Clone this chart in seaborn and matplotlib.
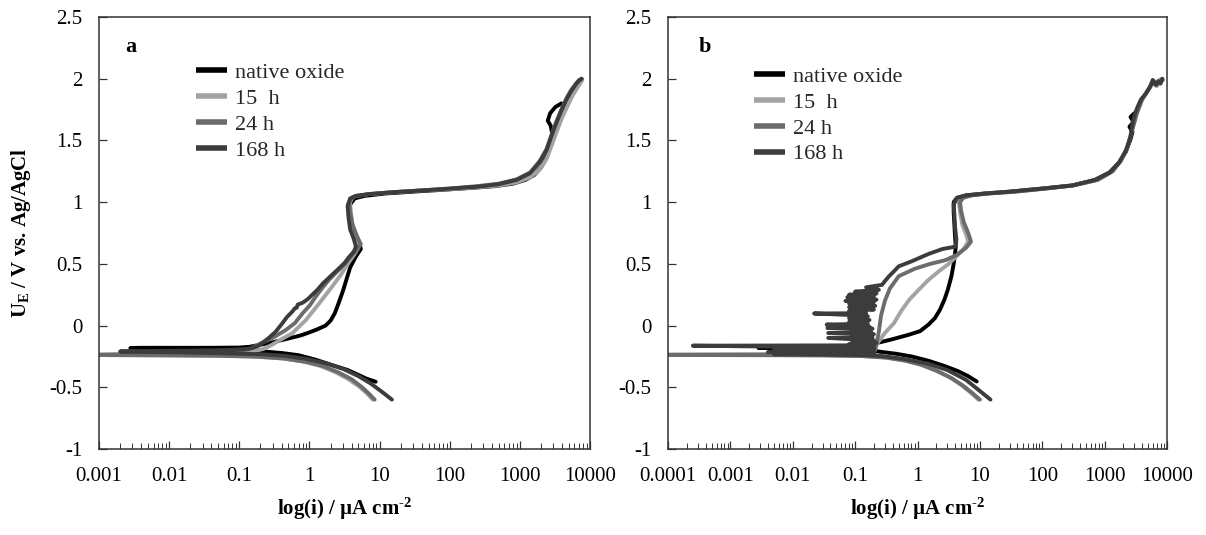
import matplotlib
matplotlib.use("Agg")
import matplotlib.pyplot as plt
from matplotlib.lines import Line2D
from matplotlib.ticker import LogLocator, FuncFormatter, MultipleLocator, NullFormatter
import seaborn as sns
import pandas as pd

# ---- series definitions -------------------------------------------------
series_labels = ["native oxide", "15  h", "24 h", "168 h"]
series_colors = ["#000000", "#a3a3a3", "#6c6c6c", "#3c3c3c"]

# panel a: (current density / uA cm-2, potential / V) along each sweep
native_a = [(8.8, -0.455), (6.5, -0.43), (5.0, -0.40), (3.5, -0.36), (2.1, -0.32), (1.2, -0.275),
            (0.7, -0.24), (0.4, -0.222), (0.25, -0.212), (0.12, -0.205), (0.04, -0.198), (0.012, -0.192),
            (0.005, -0.187), (0.0028, -0.182), (0.004, -0.18), (0.01, -0.18), (0.04, -0.18), (0.1, -0.178),
            (0.14, -0.172), (0.2, -0.155), (0.3, -0.135), (0.5, -0.105), (0.75, -0.08), (1.0, -0.055),
            (1.3, -0.03), (1.7, 0.0), (2.0, 0.04), (2.3, 0.10), (2.6, 0.18), (3.0, 0.28), (3.4, 0.38),
            (3.8, 0.47), (4.6, 0.56), (5.4, 0.62), (5.2, 0.66), (4.4, 0.72), (3.9, 0.80), (3.7, 0.90),
            (3.8, 0.98), (4.4, 1.03), (6, 1.05), (12, 1.07), (30, 1.085), (80, 1.10), (200, 1.115),
            (450, 1.13), (800, 1.15), (1200, 1.18), (1600, 1.22), (2000, 1.28), (2400, 1.36), (2700, 1.45),
            (2900, 1.55), (2750, 1.62), (2500, 1.66), (2700, 1.72), (3200, 1.77), (3900, 1.80)]
h15_a = [(8.0, -0.60), (6.5, -0.545), (5.0, -0.49), (3.5, -0.43), (2.3, -0.375), (1.4, -0.325),
         (0.8, -0.29), (0.4, -0.265), (0.15, -0.25), (0.04, -0.243), (0.008, -0.24), (0.0015, -0.238),
         (0.0007, -0.236), (0.002, -0.232), (0.02, -0.228), (0.08, -0.222), (0.15, -0.212), (0.22, -0.19),
         (0.29, -0.157), (0.4, -0.11), (0.57, -0.062), (0.89, 0.045), (1.38, 0.18), (2.1, 0.315),
         (2.8, 0.41), (3.5, 0.50), (4.3, 0.57), (5.0, 0.63), (4.6, 0.72), (4.1, 0.82), (3.9, 0.92),
         (3.8, 1.0), (4.1, 1.035), (4.6, 1.05), (7, 1.065), (15, 1.08), (40, 1.095), (100, 1.105),
         (250, 1.12), (500, 1.135), (900, 1.16), (1400, 1.2), (1900, 1.26), (2400, 1.35), (2800, 1.45),
         (3300, 1.56), (3900, 1.67), (4700, 1.77), (5600, 1.86), (6500, 1.92), (7200, 1.96), (7800, 1.99)]
h24_a = [(8.5, -0.60), (7.0, -0.55), (5.5, -0.495), (4.0, -0.435), (2.6, -0.38), (1.6, -0.33),
         (0.9, -0.295), (0.45, -0.268), (0.18, -0.252), (0.05, -0.245), (0.01, -0.242), (0.002, -0.24),
         (0.0008, -0.238), (0.002, -0.234), (0.02, -0.228), (0.08, -0.215), (0.14, -0.19), (0.21, -0.14),
         (0.32, -0.09), (0.46, -0.036), (0.62, 0.02), (0.8, 0.10), (1.0, 0.16), (1.23, 0.234), (1.5, 0.30),
         (1.9, 0.37), (2.5, 0.44), (3.2, 0.50), (3.9, 0.56), (4.8, 0.62), (5.4, 0.66), (4.8, 0.72),
         (4.1, 0.82), (3.8, 0.92), (3.7, 0.99), (3.9, 1.03), (4.5, 1.05), (7, 1.065), (15, 1.08),
         (40, 1.095), (100, 1.11), (250, 1.13), (500, 1.15), (900, 1.185), (1400, 1.24), (1900, 1.33),
         (2400, 1.43), (2800, 1.54), (3300, 1.65), (3900, 1.75), (4600, 1.84), (5400, 1.91), (6300, 1.96),
         (7000, 1.99), (7600, 2.0)]
h168_a = [(15, -0.60), (11, -0.54), (7.5, -0.47), (5.0, -0.41), (3.0, -0.35), (1.7, -0.305), (0.9, -0.27),
          (0.45, -0.245), (0.2, -0.232), (0.06, -0.225), (0.015, -0.218), (0.004, -0.213), (0.002, -0.21),
          (0.004, -0.207), (0.02, -0.203), (0.07, -0.198), (0.13, -0.19), (0.18, -0.17), (0.22, -0.135),
          (0.27, -0.095), (0.33, -0.05), (0.4, 0.01), (0.48, 0.07), (0.57, 0.113), (0.62, 0.14),
          (0.66, 0.145), (0.68, 0.17), (0.8, 0.185), (0.95, 0.215), (1.1, 0.25), (1.3, 0.29), (1.55, 0.34),
          (2.0, 0.40), (2.6, 0.46), (3.2, 0.51), (3.6, 0.55), (4.3, 0.60), (4.6, 0.64), (4.3, 0.70),
          (3.8, 0.78), (3.6, 0.88), (3.5, 0.97), (3.8, 1.03), (4.6, 1.05), (7, 1.065), (15, 1.08),
          (40, 1.095), (100, 1.11), (250, 1.125), (500, 1.145), (900, 1.18), (1400, 1.235), (1900, 1.32),
          (2400, 1.42), (2800, 1.53), (3300, 1.64), (3900, 1.74), (4600, 1.83), (5400, 1.90),
          (6300, 1.955), (7000, 1.985), (7600, 2.0)]

# panel b
native_b = [(8.9, -0.453), (6.5, -0.41), (4.5, -0.37), (2.8, -0.33), (1.5, -0.285), (0.8, -0.25),
            (0.45, -0.228), (0.28, -0.215), (0.2, -0.205), (0.1, -0.2), (0.02, -0.19), (0.006, -0.185),
            (0.0028, -0.18), (0.004, -0.178), (0.03, -0.175), (0.15, -0.17), (0.23, -0.14), (0.4, -0.11),
            (0.74, -0.073), (1.1, -0.045), (1.5, 0.008), (1.9, 0.06), (2.3, 0.13), (2.7, 0.21), (3.06, 0.29),
            (3.5, 0.40), (3.8, 0.50), (4.0, 0.58), (4.1, 0.64), (4.0, 0.72), (3.9, 0.82), (3.8, 0.92),
            (3.8, 1.0), (4.3, 1.035), (6, 1.055), (12, 1.07), (30, 1.085), (100, 1.11), (300, 1.135),
            (700, 1.18), (1200, 1.24), (1700, 1.32), (2200, 1.41), (2600, 1.51), (2800, 1.57), (2500, 1.61),
            (2900, 1.65), (2600, 1.69), (3000, 1.72)]
h15_b = [(9.5, -0.60), (7.0, -0.54), (5.0, -0.48), (3.3, -0.42), (2.0, -0.365), (1.1, -0.315),
         (0.6, -0.28), (0.3, -0.258), (0.12, -0.245), (0.03, -0.24), (0.003, -0.238), (0.00009, -0.236),
         (0.001, -0.234), (0.05, -0.232), (0.15, -0.222), (0.2, -0.2), (0.23, -0.14), (0.3, -0.06),
         (0.42, 0.02), (0.55, 0.12), (0.74, 0.21), (1.0, 0.28), (1.5, 0.37), (2.2, 0.44), (3.1, 0.496),
         (4.0, 0.55), (5.5, 0.62), (6.5, 0.68), (6.0, 0.74), (5.2, 0.82), (4.8, 0.92), (4.6, 1.0),
         (5.2, 1.035), (7, 1.055), (13, 1.07), (35, 1.085), (110, 1.11), (300, 1.135), (750, 1.18),
         (1300, 1.25), (1800, 1.33), (2300, 1.44), (2700, 1.57), (3200, 1.71), (3800, 1.82), (4800, 1.9),
         (5900, 1.97), (6800, 1.94), (7500, 1.99), (8300, 2.0)]
h24_b = [(10.0, -0.60), (7.5, -0.545), (5.3, -0.485), (3.5, -0.425), (2.1, -0.37), (1.2, -0.32),
         (0.65, -0.285), (0.32, -0.26), (0.13, -0.247), (0.03, -0.242), (0.003, -0.24), (0.00009, -0.238),
         (0.001, -0.236), (0.05, -0.233), (0.15, -0.225), (0.21, -0.2), (0.22, -0.15), (0.24, -0.05),
         (0.26, 0.08), (0.3, 0.2), (0.36, 0.3), (0.5, 0.4), (0.9, 0.46), (1.6, 0.5), (2.8, 0.53),
         (4.2, 0.57), (6.0, 0.63), (7.2, 0.68), (6.5, 0.75), (5.5, 0.84), (5.0, 0.93), (4.8, 1.0),
         (5.4, 1.035), (7.5, 1.055), (14, 1.07), (38, 1.085), (115, 1.11), (320, 1.135), (780, 1.18),
         (1350, 1.25), (1850, 1.34), (2350, 1.45), (2750, 1.58), (3300, 1.72), (4000, 1.83),
         (5000, 1.91), (6200, 1.98), (7000, 1.95), (7800, 1.98), (8600, 1.99)]
h168_b = [(14.8, -0.60), (10, -0.53), (6, -0.44), (3, -0.36), (1.5, -0.31), (0.6, -0.27), (0.25, -0.245),
          (0.1, -0.238), (0.005, -0.232), (0.2, -0.225), (0.004, -0.215), (0.2, -0.21), (0.005, -0.2),
          (0.2, -0.195), (0.006, -0.185), (0.2, -0.18), (0.00025, -0.163), (0.2, -0.16), (0.08, -0.15),
          (0.22, -0.14), (0.09, -0.13), (0.2, -0.12), (0.037, -0.10), (0.19, -0.095), (0.09, -0.08),
          (0.2, -0.07), (0.037, -0.06), (0.18, -0.05), (0.09, -0.035), (0.19, -0.025), (0.036, -0.02),
          (0.17, -0.01), (0.035, 0.008), (0.16, 0.015), (0.08, 0.03), (0.17, 0.045), (0.08, 0.06),
          (0.16, 0.075), (0.09, 0.085), (0.022, 0.098), (0.15, 0.10), (0.08, 0.12), (0.2, 0.13),
          (0.08, 0.15), (0.21, 0.16), (0.08, 0.18), (0.2, 0.19), (0.07, 0.2), (0.22, 0.21), (0.075, 0.23),
          (0.2, 0.24), (0.08, 0.25), (0.22, 0.26), (0.1, 0.275), (0.24, 0.29), (0.15, 0.31), (0.27, 0.33),
          (0.3, 0.36), (0.35, 0.40), (0.42, 0.44), (0.5, 0.48), (0.8, 0.52), (1.5, 0.58), (2.5, 0.62),
          (4.1, 0.64), (4.2, 0.70), (4.0, 0.80), (3.9, 0.90), (3.8, 0.98), (4.3, 1.035), (6, 1.055),
          (12, 1.07), (30, 1.085), (100, 1.11), (300, 1.135), (700, 1.18), (1200, 1.24), (1700, 1.32),
          (2200, 1.42), (2600, 1.53), (2750, 1.62), (3000, 1.70), (3300, 1.76), (3800, 1.83),
          (4600, 1.88), (5300, 1.93), (5900, 1.99), (6600, 1.95), (7200, 1.98), (7900, 1.96), (8400, 2.0)]

panel_a = [native_a, h15_a, h24_a, h168_a]
panel_b = [native_b, h15_b, h24_b, h168_b]

x_limits_a = (1e-3, 1e4)
x_limits_b = (1e-4, 1e4)
y_limits = (-1.0, 2.5)

# ---- styling -------------------------------------------------------------
sns.set_theme(style="white")
plt.rcParams["font.family"] = ["Liberation Serif", "DejaVu Serif"]
plt.rcParams["mathtext.fontset"] = "custom"
plt.rcParams["mathtext.rm"] = "Liberation Serif:bold"
plt.rcParams["mathtext.it"] = "Liberation Serif:bold"
plt.rcParams["mathtext.bf"] = "Liberation Serif:bold"
plt.rcParams["mathtext.default"] = "rm"

W, H = 1206, 535
fig = plt.figure(figsize=(W / 100, H / 100), dpi=100)
ax_a = fig.add_axes([99 / W, 86 / H, 491 / W, 432 / H])
ax_b = fig.add_axes([668 / W, 86 / H, 499 / W, 432 / H])


def to_frame(curves):
    rows = []
    for label, pts in zip(series_labels, curves):
        for k, (cur, pot) in enumerate(pts):
            rows.append({"series": label, "step": k, "current": cur, "potential": pot})
    return pd.DataFrame(rows)


def draw_panel(ax, curves, xlim, letter, letter_x, legend_anchor):
    ax.set_xscale("log")
    sns.lineplot(data=to_frame(curves), x="current", y="potential", hue="series",
                 hue_order=series_labels, palette=series_colors, sort=False, estimator=None,
                 linewidth=2.8, legend=False, ax=ax,
                 solid_capstyle="round", solid_joinstyle="round")
    ax.set_xlim(*xlim)
    ax.set_ylim(*y_limits)

    ax.xaxis.set_major_locator(LogLocator(base=10, numticks=20))
    ax.xaxis.set_minor_locator(LogLocator(base=10, subs=range(2, 10), numticks=20))
    ax.xaxis.set_major_formatter(FuncFormatter(lambda v, p: f"{v:g}"))
    ax.xaxis.set_minor_formatter(NullFormatter())
    ax.yaxis.set_major_locator(MultipleLocator(0.5))
    ax.yaxis.set_major_formatter(FuncFormatter(lambda v, p: f"{v:g}"))

    ax.tick_params(axis="x", which="major", direction="in", length=6, width=0.9, color="#333333",
                   bottom=True, top=False, pad=13, labelsize=15, labelcolor="black")
    ax.tick_params(axis="x", which="minor", direction="in", length=4, width=0.7, color="#333333",
                   bottom=True, top=False)
    ax.tick_params(axis="y", which="major", direction="in", length=6, width=0.9, color="#333333",
                   left=True, right=False, pad=12, labelsize=15, labelcolor="black")
    for sp in ax.spines.values():
        sp.set_visible(True)
        sp.set_color("#333333")
        sp.set_linewidth(1.1)

    ax.set_xlabel("log(i) / µA cm$^{\u20102}$", fontsize=15, fontweight="bold", labelpad=7, color="black")
    ax.set_ylabel("")
    ax.text(letter_x, 0.93, letter, transform=ax.transAxes, fontsize=16, fontweight="bold",
            va="center", ha="left", color="black")

    handles = [Line2D([0], [0], color=c, lw=4, solid_capstyle="butt") for c in series_colors]
    ax.legend(handles, series_labels, loc="upper left", bbox_to_anchor=legend_anchor, frameon=False,
              fontsize=16, handlelength=1.4, handletextpad=0.35, labelspacing=0.24,
              borderaxespad=0, borderpad=0)


draw_panel(ax_a, panel_a, x_limits_a, "a", 0.053, (0.198, 0.895))
draw_panel(ax_b, panel_b, x_limits_b, "b", 0.062, (0.172, 0.886))
ax_a.set_ylabel("U$_{E}$ / V vs. Ag/AgCl", fontsize=15, fontweight="bold", labelpad=12, color="black")

fig.savefig("out.png", dpi=100)
